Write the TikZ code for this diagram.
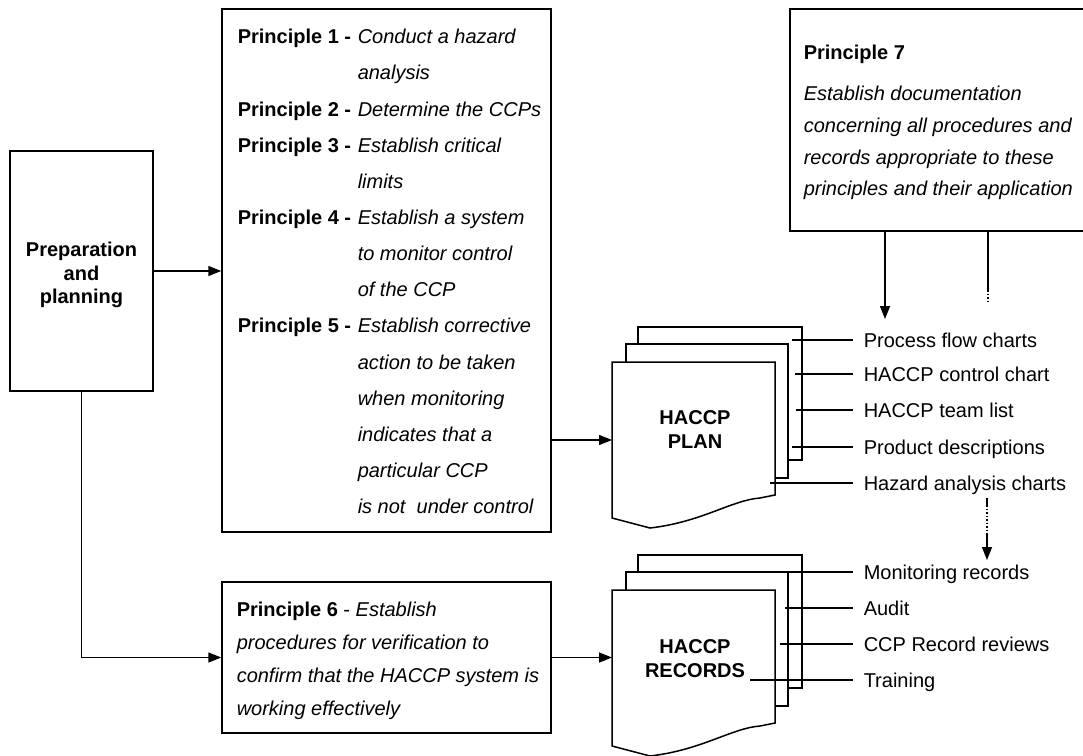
\documentclass[tikz,border=0pt]{standalone}
\usepackage{fontspec}
\setmainfont{Liberation Sans}
\usetikzlibrary{arrows.meta}

% principle label in a fixed-width left column
\newcommand\prlabel[1]{\makebox[120pt][l]{\bfseries Principle #1 -}}

% a stack of three pages, front page with a wavy lower edge
\newcommand\docstack[2]{%
  \begin{scope}[shift={(#1,#2)}]
    \draw[page] (26,-35) rectangle (190,98);
    \draw[page] (14,-18) rectangle (176,116);
    \draw[page] (0,0) -- (163,0) -- (163,133) -- (148,136)
      .. controls (120,138) and (90,160) .. (38,166) -- (0,156) -- cycle;
  \end{scope}}

\begin{document}
\begin{tikzpicture}[x=1pt,y=-1pt,
  line width=1.5pt,
  box/.style={draw, rectangle, inner sep=0pt, line width=1.5pt},
  arr/.style={-{Triangle[length=13pt,width=10pt]}},
  page/.style={draw, fill=white, line width=1.5pt, line join=miter},
  txt/.style={inner sep=0pt, font=\fontsize{20}{24}\selectfont},
  item/.style={anchor=west, inner sep=0pt, text height=14.3pt, text depth=0pt,
               font=\fontsize{20}{24}\selectfont},
  lead/.style={line width=1.4pt},
]
\useasboundingbox (0,0) rectangle (1083,755);

% preparation
\node[box, minimum width=143pt, minimum height=240pt] (prep) at (81.5,271) {};
\node[txt, anchor=north] (preptext) at (81.5,239.5)
  {\fontsize{20}{23.5}\selectfont\begin{tabular}{@{}c@{}}
   \bfseries Preparation\\ \bfseries and\\ \bfseries planning\end{tabular}};

% principles 1 to 5
\node[box, minimum width=329pt, minimum height=523pt] (p15) at (386.5,270.5) {};
\node[txt, anchor=north west] (p15text) at (237,17.7)
  {\fontsize{20}{36.15}\selectfont\begin{tabular}{@{}l@{}l@{}}
   \prlabel{1} & \itshape Conduct a hazard\\
               & \itshape analysis\\
   \prlabel{2} & \itshape Determine the CCPs\\
   \prlabel{3} & \itshape Establish critical\\
               & \itshape limits\\
   \prlabel{4} & \itshape Establish a system\\
               & \itshape to monitor control\\
               & \itshape of the CCP\\
   \prlabel{5} & \itshape Establish corrective\\
               & \itshape action to be taken\\
               & \itshape when monitoring\\
               & \itshape indicates that a\\
               & \itshape particular CCP\\
               & \itshape is not\ \ under control
  \end{tabular}};

% principle 6
\node[box, minimum width=329pt, minimum height=151pt] (p6) at (386.5,657.5) {};
\node[txt, anchor=north west] (p6text) at (236,592.9)
  {\fontsize{20}{33}\selectfont\begin{tabular}{@{}l@{}}
   \textbf{Principle 6} - \textit{Establish}\\
   \itshape procedures for verification to\\
   \itshape confirm that the HACCP system is\\
   \itshape working effectively
  \end{tabular}};

% principle 7
\node[box, minimum width=295pt, minimum height=222pt] (p7) at (937.5,120) {};
\node[txt, anchor=north west] (p7text) at (803,36.8)
  {\fontsize{20}{31.7}\selectfont\begin{tabular}{@{}l@{}}
   \bfseries Principle 7\\[9.3pt]
   \itshape Establish documentation\\
   \itshape concerning all procedures and\\
   \itshape records appropriate to these\\
   \itshape principles and their application
  \end{tabular}};

% document stacks
\docstack{612}{362}
\docstack{612}{590}
\node[txt, anchor=north] (plan) at (695,407.5)
  {\fontsize{20}{23.5}\selectfont\begin{tabular}{@{}c@{}}
   \bfseries HACCP\\ \bfseries PLAN\end{tabular}};
\node[txt, anchor=north] (records) at (695,636.5)
  {\fontsize{20}{23.5}\selectfont\begin{tabular}{@{}c@{}}
   \bfseries HACCP\\ \bfseries RECORDS\end{tabular}};
\coordinate (planin) at (612,440);
\coordinate (recin) at (612,657.5);

% contents of the plan and of the records
\foreach \n/\y/\s/\t in {
  lp1/340/792/Process flow charts,
  lp2/374/795/HACCP control chart,
  lp3/410/796/HACCP team list,
  lp4/447/792/Product descriptions,
  lp5/483/770/Hazard analysis charts,
  lr1/572/788/Monitoring records,
  lr2/608/785/Audit,
  lr3/644/780/CCP Record reviews,
  lr4/680/750/Training} {
  \node[item] (\n) at (863,\y) {\t};
  \draw[lead] (\s,0 |- \n.west) -- ([xshift=-10pt]\n.west);
}

% flow arrows
\draw[arr] (prep.east) -- (prep.east -| p15.west);
\draw[arr] (prep.south) |- (p6.west);
\draw[arr] (p15.east |- planin) -- (planin);
\draw[arr] (p6.east) -- (p6.east -| recin);

% links from principle 7
\coordinate (tipA) at (885,319);
\draw[arr] (p7.south -| tipA) -- (tipA);
\coordinate (dA) at (988,290);
\coordinate (dB) at (988,304);
\draw (p7.south -| dA) -- (dA);
\draw[dotted] (dA) -- (dB);

% link from the plan to the records
\coordinate (eA) at (987,498);
\coordinate (eB) at (987,505);
\coordinate (eC) at (987,534);
\coordinate (tipB) at (987,560);
\draw (eA) -- (eB);
\draw[dotted] (eB) -- (eC);
\draw[arr] (eC) -- (tipB);
\end{tikzpicture}
\end{document}
